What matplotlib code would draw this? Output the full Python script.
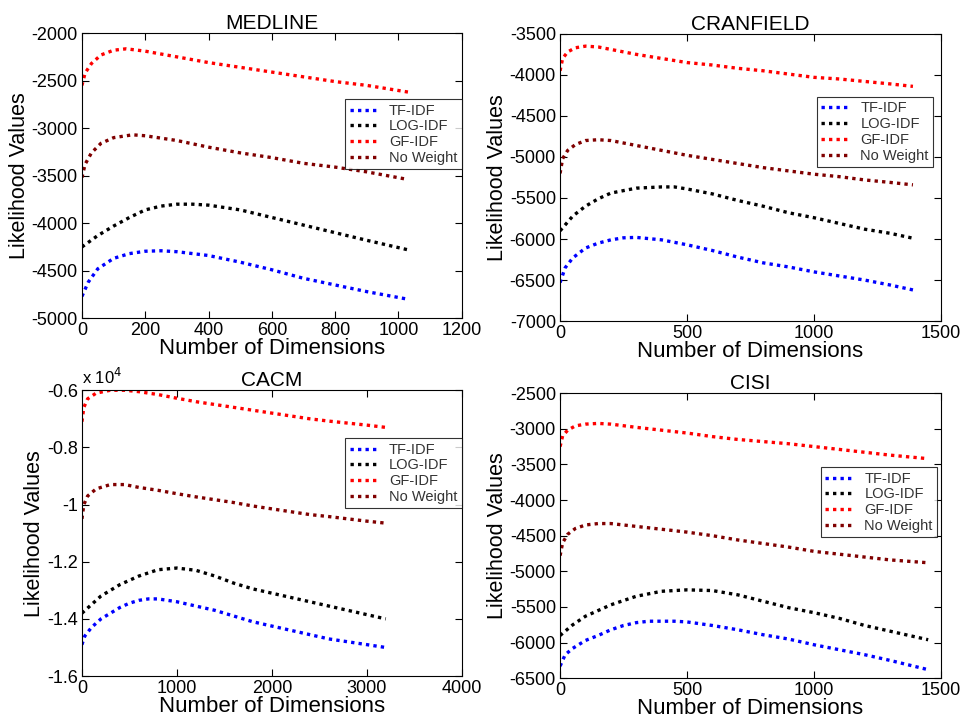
import numpy as np
import matplotlib
matplotlib.use('Agg')
import matplotlib.pyplot as plt
from matplotlib.ticker import FuncFormatter

plt.rcParams['font.family'] = ['Liberation Sans', 'DejaVu Sans']
plt.rcParams['axes.unicode_minus'] = False

labels = ['TF-IDF', 'LOG-IDF', 'GF-IDF', 'No Weight']
colors = ['#0000ff', '#000000', '#ff0000', '#800000']

# MEDLINE
med_x = [[0, 20, 50, 100, 150, 200, 250, 300, 400, 500, 600, 700, 800, 900, 1030],
         [0, 50, 100, 150, 200, 250, 300, 350, 400, 500, 600, 700, 800, 900, 1030],
         [0, 10, 30, 60, 100, 140, 200, 300, 400, 500, 600, 700, 800, 900, 1030],
         [0, 10, 30, 60, 100, 160, 200, 300, 400, 500, 600, 700, 800, 900, 1030]]
med_tfidf = [-4770, -4620, -4480, -4370, -4320, -4295, -4290, -4300, -4340, -4410, -4490, -4580, -4650, -4720, -4800]
med_logidf = [-4250, -4130, -4030, -3940, -3860, -3820, -3800, -3800, -3810, -3860, -3940, -4020, -4100, -4180, -4280]
med_gfidf = [-2550, -2420, -2320, -2230, -2180, -2165, -2190, -2250, -2310, -2360, -2410, -2460, -2510, -2550, -2620]
med_noweight = [-3520, -3380, -3260, -3160, -3100, -3070, -3080, -3130, -3200, -3260, -3310, -3370, -3410, -3460, -3540]

# CRANFIELD
cran_x = [[0, 20, 50, 100, 150, 200, 250, 300, 400, 500, 600, 700, 800, 900, 1000, 1100, 1200, 1300, 1390],
          [0, 50, 100, 150, 200, 300, 400, 450, 500, 600, 700, 800, 900, 1000, 1100, 1200, 1300, 1390],
          [0, 10, 30, 60, 100, 150, 200, 300, 400, 500, 600, 700, 800, 900, 1000, 1100, 1200, 1300, 1390],
          [0, 10, 30, 60, 100, 150, 200, 300, 400, 500, 600, 700, 800, 900, 1000, 1100, 1200, 1300, 1390]]
cran_tfidf = [-6530, -6350, -6230, -6110, -6050, -6010, -5985, -5980, -6010, -6070, -6140, -6220, -6290, -6340, -6400, -6450, -6500, -6560, -6620]
cran_logidf = [-5900, -5720, -5600, -5510, -5440, -5380, -5365, -5365, -5390, -5450, -5530, -5600, -5680, -5740, -5810, -5880, -5930, -5990]
cran_gfidf = [-3950, -3800, -3720, -3670, -3650, -3660, -3690, -3750, -3800, -3850, -3880, -3920, -3950, -3990, -4030, -4050, -4080, -4110, -4140]
cran_noweight = [-5200, -5020, -4920, -4850, -4800, -4790, -4800, -4860, -4920, -4980, -5030, -5080, -5130, -5170, -5210, -5240, -5280, -5310, -5340]

# CACM
cacm_x = [[0, 30, 100, 200, 300, 400, 500, 600, 700, 800, 1000, 1200, 1400, 1600, 1800, 2000, 2200, 2400, 2600, 2800, 3000, 3200],
          [0, 100, 200, 400, 600, 800, 1000, 1200, 1400, 1600, 1800, 2000, 2200, 2400, 2600, 2800, 3000, 3200],
          [0, 20, 60, 150, 300, 450, 600, 800, 1000, 1200, 1400, 1600, 1800, 2000, 2200, 2400, 2600, 2800, 3000, 3200],
          [0, 20, 60, 150, 300, 450, 600, 800, 1000, 1200, 1400, 1600, 1800, 2000, 2200, 2400, 2600, 2800, 3000, 3200]]
cacm_tfidf = [-14900, -14600, -14300, -14000, -13800, -13600, -13450, -13350, -13300, -13300, -13400, -13550, -13700, -13900, -14100, -14250, -14400, -14550, -14700, -14800, -14900, -15000]
cacm_logidf = [-13800, -13500, -13200, -12800, -12500, -12280, -12220, -12300, -12500, -12750, -12950, -13100, -13250, -13400, -13550, -13700, -13850, -14000]
cacm_gfidf = [-7100, -6600, -6300, -6100, -6000, -6000, -6050, -6150, -6280, -6400, -6500, -6600, -6700, -6800, -6900, -7000, -7080, -7150, -7220, -7300]
cacm_noweight = [-10500, -10000, -9700, -9450, -9300, -9300, -9400, -9500, -9620, -9730, -9830, -9930, -10050, -10150, -10250, -10350, -10420, -10500, -10580, -10650]

# CISI
cisi_x = [[0, 20, 50, 100, 150, 200, 250, 300, 350, 450, 500, 600, 700, 800, 900, 1000, 1100, 1200, 1300, 1450],
          [0, 50, 100, 200, 300, 400, 500, 600, 700, 800, 900, 1000, 1100, 1200, 1300, 1450],
          [0, 10, 30, 60, 100, 150, 200, 300, 400, 500, 600, 700, 800, 900, 1000, 1100, 1200, 1300, 1450],
          [0, 10, 30, 60, 100, 150, 200, 300, 400, 500, 600, 700, 800, 900, 1000, 1100, 1200, 1300, 1450]]
cisi_tfidf = [-6330, -6170, -6080, -5970, -5900, -5820, -5760, -5720, -5700, -5700, -5710, -5760, -5820, -5890, -5950, -6030, -6100, -6170, -6250, -6380]
cisi_logidf = [-5900, -5750, -5630, -5470, -5350, -5280, -5260, -5270, -5330, -5420, -5510, -5580, -5660, -5760, -5840, -5960]
cisi_gfidf = [-3250, -3100, -3020, -2960, -2935, -2925, -2935, -2980, -3020, -3060, -3110, -3150, -3180, -3210, -3250, -3290, -3330, -3370, -3420]
cisi_noweight = [-4780, -4600, -4480, -4400, -4350, -4330, -4330, -4370, -4410, -4450, -4500, -4560, -4610, -4660, -4720, -4760, -4800, -4840, -4880]

panels = [
    dict(title='MEDLINE', xs=med_x, ys=[med_tfidf, med_logidf, med_gfidf, med_noweight],
         xlim=(0, 1200), xticks=[0, 200, 400, 600, 800, 1000, 1200],
         ylim=(-5000, -2000), yticks=[-5000, -4500, -4000, -3500, -3000, -2500, -2000],
         pos=[0.085, 0.558, 0.394, 0.396], leg=(1.0, 0.768), sci=False),
    dict(title='CRANFIELD', xs=cran_x, ys=[cran_tfidf, cran_logidf, cran_gfidf, cran_noweight],
         xlim=(0, 1500), xticks=[0, 500, 1000, 1500],
         ylim=(-7000, -3500), yticks=[-7000, -6500, -6000, -5500, -5000, -4500, -4000, -3500],
         pos=[0.581, 0.554, 0.395, 0.399], leg=(0.98, 0.78), sci=False),
    dict(title='CACM', xs=cacm_x, ys=[cacm_tfidf, cacm_logidf, cacm_gfidf, cacm_noweight],
         xlim=(0, 4000), xticks=[0, 1000, 2000, 3000, 4000],
         ylim=(-16000, -6000), yticks=[-16000, -14000, -12000, -10000, -8000, -6000],
         pos=[0.085, 0.061, 0.394, 0.397], leg=(1.0, 0.832), sci=True),
    dict(title='CISI', xs=cisi_x, ys=[cisi_tfidf, cisi_logidf, cisi_gfidf, cisi_noweight],
         xlim=(0, 1500), xticks=[0, 500, 1000, 1500],
         ylim=(-6500, -2500), yticks=[-6500, -6000, -5500, -5000, -4500, -4000, -3500, -3000, -2500],
         pos=[0.581, 0.058, 0.395, 0.396], leg=(0.99, 0.74), sci=False),
]

fig = plt.figure(figsize=(9.64, 7.2), dpi=100)

for p in panels:
    ax = fig.add_axes(p['pos'])
    for x, y, lab, c in zip(p['xs'], p['ys'], labels, colors):
        ax.plot(x, y, color=c, linestyle=(0, (1.0, 1.25)), linewidth=2.4,
                dash_capstyle='butt', label=lab)
    ax.set_xlim(*p['xlim'])
    ax.set_ylim(*p['ylim'])
    ax.set_xticks(p['xticks'])
    ax.set_yticks(p['yticks'])
    if p['sci']:
        ax.yaxis.set_major_formatter(FuncFormatter(lambda v, _: '%g' % (v / 1e4)))
        ax.text(0.0, 1.01, 'x 10$^4$', transform=ax.transAxes, fontsize=12,
                ha='left', va='bottom')
    ax.tick_params(direction='in', top=True, right=True, labelsize=13,
                   length=5, width=0.8, pad=3)
    for s in ax.spines.values():
        s.set_linewidth(0.8)
    ax.set_title(p['title'], fontsize=15, pad=3)
    ax.set_xlabel('Number of Dimensions', fontsize=16, labelpad=-1)
    ax.set_ylabel('Likelihood Values', fontsize=15.5, labelpad=1)
    leg = ax.legend(loc='upper right', bbox_to_anchor=p['leg'], fontsize=10.5,
                    frameon=True, fancybox=False, borderaxespad=0,
                    handlelength=2.0, labelspacing=0.12, borderpad=0.3,
                    handletextpad=0.7)
    leg.get_frame().set_edgecolor('black')
    leg.get_frame().set_linewidth(0.8)
    for t in leg.get_texts():
        t.set_color('#333333')

fig.savefig('out.png', dpi=100, facecolor='white')
